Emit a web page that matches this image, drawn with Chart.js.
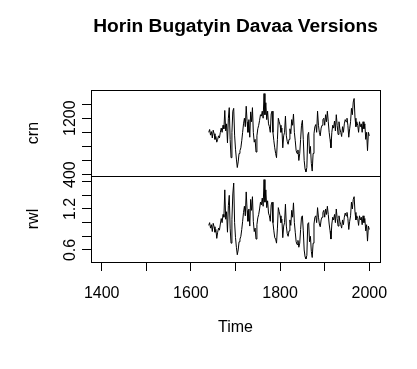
<!DOCTYPE html>
<html>
<head>
<meta charset="utf-8">
<script src="https://cdn.jsdelivr.net/npm/chart.js@4.4.0/dist/chart.umd.min.js"></script>
<style>
  html, body { margin: 0; padding: 0; background: #fff; }
  #wrap { position: relative; width: 417px; height: 369px; overflow: hidden; background: #fff; }
  #crnChart { position: absolute; left: 0; top: 0; }
  #rwlChart { position: absolute; left: 0; top: 166px; }
</style>
</head>
<body>
<div id="wrap">
  <canvas id="crnChart" width="417" height="196" style="width:417px;height:196px"></canvas>
  <canvas id="rwlChart" width="417" height="203" style="width:417px;height:203px"></canvas>
</div>
<script>
// series start year and spacing (one value every 2 years)
const firstYear = 1640;
const yearStep = 2;

// chronology (crn), one row per decade
const crnValues = [
  1000, 1040, 960, 1010, 920,
  1030, 980, 900, 940, 860,
  900, 950, 920, 1000, 1060,
  1000, 1100, 1050, 1310, 1020,
  1120, 850, 1200, 1350, 900,
  640, 1000, 1300, 1340, 960,
  760, 620, 500, 580, 700,
  740, 780, 880, 1000, 1120,
  1200, 1080, 1370, 1150, 1000,
  1180, 930, 1290, 1150, 1350,
  1000, 860, 900, 720, 950,
  1050, 1100, 1170, 1250, 1230,
  1300, 1200, 1550, 1250, 1420,
  1180, 1300, 1120, 1080, 1000,
  1260, 1300, 1000, 880, 780,
  700, 640, 900, 1200, 1150,
  1100, 1000, 1060, 780, 950,
  1000, 1230, 950, 870, 830,
  900, 1050, 980, 1180, 1100,
  1260, 1000, 880, 740, 700,
  750, 600, 700, 900, 1100,
  1170, 900, 600, 480, 440,
  500, 960, 1000, 700, 800,
  560, 450, 700, 980, 1080,
  1110, 1000, 1300, 1100, 1000,
  950, 1060, 1100, 1180, 1200,
  1100, 1250, 1150, 1300, 1150,
  1000, 900, 780, 1000, 1100,
  1060, 1160, 1020, 1250, 1100,
  970, 1150, 1050, 1000, 940,
  1080, 1000, 1120, 1180, 1150,
  1200, 1100, 930, 1050, 1150,
  1340, 1250, 1430, 1480, 1200,
  1080, 1150, 1100, 1000, 1150,
  1080, 1120, 1000, 1150, 1050,
  1120, 900, 1000, 740, 1000,
  950
];

// mean ring width (rwl), one row per decade
const rwlValues = [
  0.96, 1.00, 0.92, 0.97, 0.87,
  0.99, 0.94, 0.86, 0.90, 0.77,
  0.86, 0.92, 0.89, 0.98, 1.06,
  1.00, 1.12, 1.08, 1.48, 1.05,
  1.16, 0.86, 1.25, 1.40, 0.92,
  0.70, 1.05, 1.42, 1.58, 1.00,
  0.78, 0.64, 0.53, 0.60, 0.72,
  0.76, 0.80, 0.90, 1.02, 1.15,
  1.24, 1.10, 1.45, 1.18, 1.02,
  1.20, 0.95, 1.34, 1.18, 1.38,
  1.02, 0.87, 0.92, 0.76, 0.97,
  1.07, 1.12, 1.20, 1.30, 1.26,
  1.36, 1.24, 1.63, 1.30, 1.48,
  1.22, 1.32, 1.14, 1.10, 1.02,
  1.26, 1.30, 1.00, 0.88, 0.78,
  0.76, 0.70, 0.92, 1.22, 1.16,
  1.10, 1.00, 1.05, 0.78, 0.95,
  1.00, 1.27, 0.95, 0.84, 0.80,
  0.88, 1.04, 0.96, 1.18, 1.08,
  1.29, 1.00, 0.86, 0.72, 0.68,
  0.74, 0.64, 0.70, 0.90, 1.08,
  1.10, 0.88, 0.60, 0.50, 0.47,
  0.52, 0.98, 1.00, 0.72, 0.80,
  0.58, 0.49, 0.70, 0.98, 1.08,
  1.10, 1.00, 1.22, 1.08, 0.98,
  0.94, 1.04, 1.08, 1.15, 1.18,
  1.08, 1.20, 1.12, 1.24, 1.12,
  0.98, 0.88, 0.76, 0.98, 1.08,
  1.04, 1.12, 1.00, 1.20, 1.06,
  0.95, 1.10, 1.02, 0.97, 0.92,
  1.04, 0.97, 1.08, 1.14, 1.10,
  1.15, 1.06, 0.90, 1.02, 1.10,
  1.30, 1.20, 1.34, 1.38, 1.15,
  1.04, 1.10, 1.06, 0.96, 1.10,
  1.04, 1.08, 0.97, 1.10, 1.00,
  1.06, 0.88, 0.97, 0.73, 0.95,
  0.90
];

const crnTicks = [400, 600, 800, 1000, 1200, 1400];
const crnTickLabels = [400, 1200];
const rwlTicks = [0.6, 0.8, 1.0, 1.2, 1.4, 1.6];
const rwlTickLabels = [0.6, 1.2];
const timeTicks = [1400, 1500, 1600, 1700, 1800, 1900, 2000];
const timeTickLabels = [1400, 1600, 1800, 2000];

const FONT = 'Arial, "Liberation Sans", sans-serif';
Chart.defaults.font.family = FONT;
Chart.defaults.font.size = 16;
Chart.defaults.color = '#000';

const toPoints = values => values.map((v, i) => ({ x: firstYear + i * yearStep, y: v }));

// R style box round the plot region
const boxPlugin = {
    id: 'box',
    afterDraw(chart) {
        const { ctx, chartArea: a } = chart;
        ctx.save();
        ctx.strokeStyle = '#000';
        ctx.lineWidth = 1;
        ctx.strokeRect(Math.round(a.left) + 0.5, Math.round(a.top) + 0.5,
            Math.round(a.right - a.left), Math.round(a.bottom - a.top));
        ctx.restore();
    }
};

function yScale(min, max, ticks, labelled, title, pad) {
    return {
        position: 'left',
        min, max,
        afterBuildTicks: s => { s.ticks = ticks.map(v => ({ value: v })); },
        afterFit: s => { s.width = 91; },
        ticks: {
            autoSkip: false,
            minRotation: 90,
            maxRotation: 90,
            crossAlign: 'center',
            padding: pad,
            color: '#000',
            callback: v => labelled.includes(v) ? String(v) : ''
        },
        grid: { drawOnChartArea: false, drawTicks: true, tickLength: 9, tickColor: '#000', tickWidth: 1 },
        border: { display: false },
        title: { display: true, text: title, color: '#000', padding: { top: 23.7, bottom: 0 } }
    };
}

function timeScale(show) {
    const scale = {
        type: 'linear',
        position: 'bottom',
        min: 1376, max: 2024,
        display: show
    };
    if (!show) return scale;
    return Object.assign(scale, {
        afterBuildTicks: s => { s.ticks = timeTicks.map(v => ({ value: v })); },
        afterFit: s => { s.height = 107; },
        ticks: {
            autoSkip: false,
            maxRotation: 0,
            padding: 12.6,
            color: '#000',
            callback: v => timeTickLabels.includes(v) ? String(v) : ''
        },
        grid: { drawOnChartArea: false, drawTicks: true, tickLength: 9, tickColor: '#000', tickWidth: 1 },
        border: { display: false },
        title: { display: true, text: 'Time', color: '#000', padding: { top: 0, bottom: 31.4 } }
    });
}

function lineDataset(values) {
    return {
        data: toPoints(values),
        borderColor: '#000',
        borderWidth: 1,
        pointRadius: 0,
        tension: 0,
        fill: false
    };
}

new Chart(document.getElementById('crnChart'), {
    type: 'line',
    data: { datasets: [lineDataset(crnValues)] },
    options: {
        responsive: false,
        animation: false,
        devicePixelRatio: 1,
        events: [],
        layout: { padding: { left: 0, right: 37, top: 0, bottom: 20 } },
        scales: {
            x: timeScale(false),
            y: yScale(380, 1600, crnTicks, crnTickLabels, 'crn', -6.8)
        },
        plugins: {
            legend: { display: false },
            tooltip: { enabled: false },
            title: {
                display: true,
                fullSize: false,
                text: 'Horin Bugatyin Davaa Versions',
                color: '#000',
                font: { size: 19.2, weight: 'bold' },
                padding: { top: 15.5, bottom: 51.5 }
            }
        }
    },
    plugins: [boxPlugin]
});

new Chart(document.getElementById('rwlChart'), {
    type: 'line',
    data: { datasets: [lineDataset(rwlValues)] },
    options: {
        responsive: false,
        animation: false,
        devicePixelRatio: 1,
        events: [],
        layout: { padding: { left: 0, right: 37, top: 10, bottom: 0 } },
        scales: {
            x: timeScale(true),
            y: yScale(0.424, 1.683, rwlTicks, rwlTickLabels, 'rwl', 0)
        },
        plugins: {
            legend: { display: false },
            tooltip: { enabled: false }
        }
    },
    plugins: [boxPlugin]
});
</script>
</body>
</html>
